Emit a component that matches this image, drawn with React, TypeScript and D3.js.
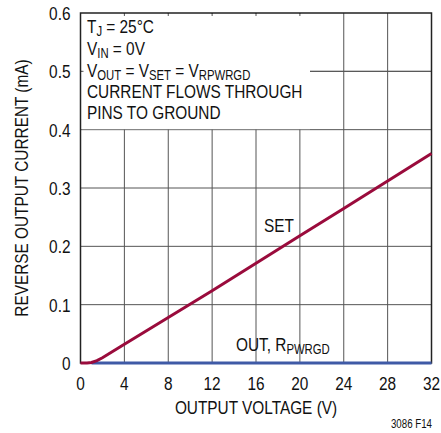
import * as d3 from "d3";
import type { ReactNode } from "react";

const xTicks = [0, 4, 8, 12, 16, 20, 24, 28, 32];
const yTicks = [0, 0.1, 0.2, 0.3, 0.4, 0.5, 0.6];

// SET pin reverse current (mA) vs output voltage (V)
const setVolts = [0, 0.6, 1, 1.5, 2, 4, 8, 12, 16, 20, 24, 28, 32];
const setCurrent = [0, 0, 0.001, 0.004, 0.009, 0.032, 0.078, 0.124, 0.171, 0.218, 0.265, 0.312, 0.359];

// OUT, RPWRGD current stays at zero
const outVolts = [1, 32];
const outCurrent = [0, 0];

const W = 441;
const H = 433;
const M = { left: 80.5, right: 9.5, top: 13, bottom: 70 };
const FONT = "'Liberation Sans', Arial, sans-serif";
const SX = 0.81; // condensed look

// condensed text: horizontal squeeze around the anchor point
function T({ x, y, size, anchor = "start", rotate = 0, children }: {
  x: number; y: number; size: number; anchor?: string; rotate?: number; children: ReactNode;
}) {
  return (
    <g transform={`translate(${x},${y}) rotate(${rotate}) scale(${SX},1)`}>
      <text x={0} y={0} fontSize={size} textAnchor={anchor} fill="#111">
        {children}
      </text>
    </g>
  );
}

export default function App() {
  const x = d3.scaleLinear().domain([0, 32]).range([M.left, W - M.right]);
  const y = d3.scaleLinear().domain([0, 0.6]).range([H - M.bottom, M.top]);

  const line = d3
    .line<[number, number]>()
    .x((d) => x(d[0]))
    .y((d) => y(d[1]));

  const setPts = setVolts.map((v, i) => [v, setCurrent[i]] as [number, number]);
  const outPts = outVolts.map((v, i) => [v, outCurrent[i]] as [number, number]);

  // white box for the notes, top-left
  const boxRight = 310;
  const fs = 19;
  const sub = 14;

  return (
    <svg
      width={W}
      height={H}
      style={{ position: "absolute", left: 0, top: 0, background: "#fff" }}
      fontFamily={FONT}
    >
      {/* grid */}
      {xTicks.slice(1, -1).map((t) => (
        <line key={"gx" + t} x1={x(t)} x2={x(t)} y1={y(0.6)} y2={y(0)} stroke="#555" strokeWidth={1} />
      ))}
      {yTicks.slice(1, -1).map((t) => (
        <line key={"gy" + t} x1={x(0)} x2={x(32)} y1={y(t)} y2={y(t)} stroke="#555" strokeWidth={1} />
      ))}
      <rect x={x(0) + 1} y={y(0.6) + 1} width={boxRight - x(0) - 1} height={y(0.4) - y(0.6) - 1.5} fill="#fff" />
      {xTicks.slice(1, -1).filter((t) => x(t) < boxRight).map((t) => (
        <line key={"tt" + t} x1={x(t)} x2={x(t)} y1={y(0.6)} y2={y(0.6) + 3} stroke="#555" strokeWidth={1} />
      ))}
      <line x1={x(0)} x2={x(0) + 3} y1={y(0.5)} y2={y(0.5)} stroke="#555" strokeWidth={1} />
      <line x1={boxRight} x2={x(32)} y1={y(0.5)} y2={y(0.5)} stroke="#555" strokeWidth={1} />

      {/* frame */}
      <rect x={x(0)} y={y(0.6)} width={x(32) - x(0)} height={y(0) - y(0.6)} fill="none" stroke="#222" strokeWidth={1.5} />

      {/* curves */}
      <path d={line(outPts) ?? ""} fill="none" stroke="#3f5aa6" strokeWidth={3} />
      <path d={line(setPts) ?? ""} fill="none" stroke="#9a0b3c" strokeWidth={3} />

      {/* tick labels */}
      {xTicks.map((t) => (
        <T key={"xl" + t} x={x(t)} y={y(0) + 27} size={fs} anchor="middle">
          {t}
        </T>
      ))}
      {yTicks.map((t) => (
        <T key={"yl" + t} x={x(0) - 10} y={y(t) + 7} size={fs} anchor="end">
          {t === 0 ? "0" : t.toFixed(1)}
        </T>
      ))}

      {/* axis titles */}
      <T x={(x(0) + x(32)) / 2} y={414} size={fs} anchor="middle">
        OUTPUT VOLTAGE (V)
      </T>
      <T x={28} y={(y(0) + y(0.6)) / 2} size={fs} anchor="middle" rotate={-90}>
        REVERSE OUTPUT CURRENT (mA)
      </T>
      <T x={432} y={428} size={12} anchor="end">
        3086 F14
      </T>

      {/* notes */}
      <T x={87} y={33} size={fs}>
        T<tspan fontSize={sub} dy={3}>J</tspan>
        <tspan dy={-3}> = 25°C</tspan>
      </T>
      <T x={87} y={55} size={fs}>
        V<tspan fontSize={sub} dy={3}>IN</tspan>
        <tspan dy={-3}> = 0V</tspan>
      </T>
      <T x={87} y={77} size={fs}>
        V<tspan fontSize={sub} dy={3}>OUT</tspan>
        <tspan dy={-3}> = V</tspan>
        <tspan fontSize={sub} dy={3}>SET</tspan>
        <tspan dy={-3}> = V</tspan>
        <tspan fontSize={sub} dy={3}>RPWRGD</tspan>
      </T>
      <T x={87} y={98} size={fs}>CURRENT FLOWS THROUGH</T>
      <T x={87} y={119} size={fs}>PINS TO GROUND</T>

      {/* curve labels */}
      <T x={264} y={232} size={fs}>SET</T>
      <T x={236} y={351} size={fs}>
        OUT, R<tspan fontSize={sub} dy={3}>PWRGD</tspan>
      </T>
    </svg>
  );
}
